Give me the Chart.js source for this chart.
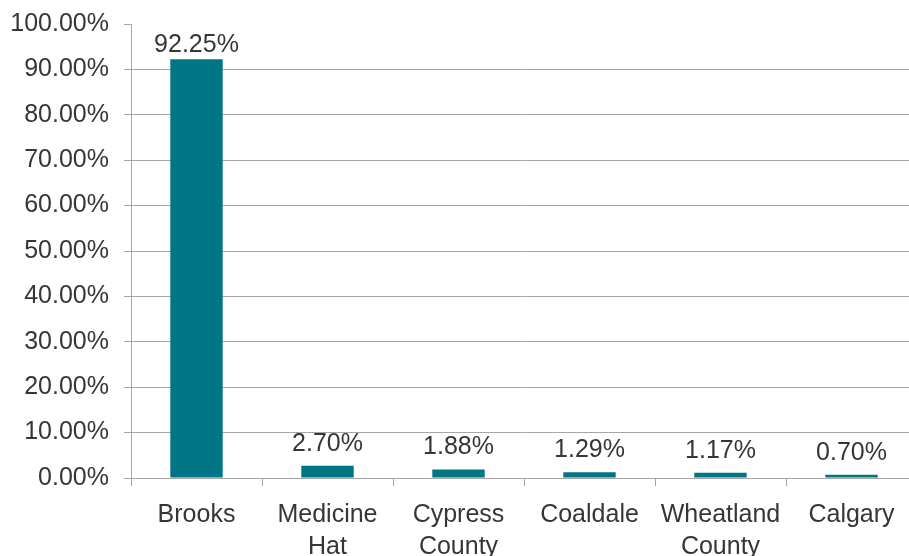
<!DOCTYPE html>
<html>
<head>
<meta charset="utf-8">
<script src="https://cdn.jsdelivr.net/npm/chart.js@4/dist/chart.umd.min.js"></script>
<style>
html,body{margin:0;padding:0;background:#fff;overflow:hidden;width:909px;height:556px;}
canvas{display:block;}
</style>
</head>
<body>
<canvas id="c" width="925" height="556"></canvas>
<script>
const categories = [["Brooks"], ["Medicine", "Hat"], ["Cypress", "County"], ["Coaldale"], ["Wheatland", "County"], ["Calgary"]];
const shares = [92.25, 2.70, 1.88, 1.29, 1.17, 0.70];
const yTicks = [0, 10, 20, 30, 40, 50, 60, 70, 80, 90, 100];

const FONT = "'Liberation Sans', Arial, sans-serif";
const TEXT = '#363636';
const GRID = '#a6a6a6';
const FS = 25;

const labelPlugin = {
  id: 'valueLabels',
  afterDatasetsDraw(chart) {
    const ctx = chart.ctx;
    const meta = chart.getDatasetMeta(0);
    ctx.save();
    ctx.font = FS + 'px ' + FONT;
    ctx.fillStyle = TEXT;
    ctx.textAlign = 'center';
    ctx.textBaseline = 'alphabetic';
    meta.data.forEach((bar, i) => {
      let y = bar.y - 15;
      y = Math.max(y, chart.chartArea.top + 28);
      ctx.fillText(shares[i].toFixed(2) + '%', bar.x, y);
    });
    ctx.restore();
  }
};

new Chart(document.getElementById('c'), {
  type: 'bar',
  data: {
    labels: categories,
    datasets: [{
      data: shares,
      backgroundColor: '#007585',
      borderWidth: 0,
      barPercentage: 0.4,
      categoryPercentage: 1.0
    }]
  },
  options: {
    responsive: false,
    animation: false,
    devicePixelRatio: 1,
    layout: { padding: { left: 0, right: 8, top: 0, bottom: 0 } },
    plugins: { legend: { display: false }, tooltip: { enabled: false } },
    scales: {
      x: {
        grid: { offset: true, drawOnChartArea: false, color: GRID, tickColor: GRID, tickLength: 8 },
        border: { color: GRID, width: 1 },
        ticks: { color: TEXT, font: { family: FONT, size: FS, lineHeight: 1.28 }, padding: 13, maxRotation: 0, autoSkip: false },
        afterFit(s) { s.height = 78; }
      },
      y: {
        min: 0, max: 100,
        afterBuildTicks(s) { s.ticks = yTicks.map(v => ({ value: v })); },
        grid: {
          color: c => (c.tick && c.tick.value === 100) ? 'rgba(0,0,0,0)' : GRID,
          tickColor: GRID, tickLength: 7, lineWidth: 1
        },
        border: { color: GRID, width: 1 },
        ticks: { color: TEXT, font: { family: FONT, size: FS }, padding: 15, callback: v => Number(v).toFixed(2) + '%' },
        afterFit(s) { s.width = 131; s.paddingTop = 24; }
      }
    }
  },
  plugins: [labelPlugin]
});
</script>
</body>
</html>
